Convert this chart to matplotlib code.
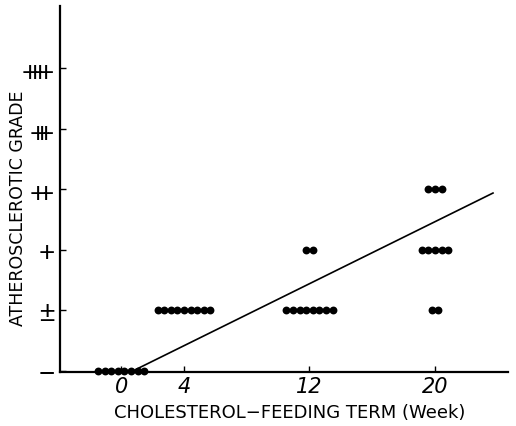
import numpy as np
import matplotlib.pyplot as plt

# feeding term (weeks) and grade for each group of animals, with head counts
group_weeks = [0, 4, 12, 12, 20, 20, 20]
group_grades = [0, 1, 1, 2, 1, 2, 3]
group_counts = [8, 9, 8, 2, 2, 5, 3]

# hand-drawn trend line through the groups
trend_weeks = [0.9, 23.7]
trend_grades = [0.02, 2.94]

week_ticks = [0, 4, 12, 20]
week_labels = ["0", "4", "12", "20"]
grade_ticks = [0, 1, 2, 3, 4, 5]
grade_labels = ["−", "±", "+",
                r"${+}\hspace{-0.27}{+}$",
                r"${+}\hspace{-0.45}{+}\hspace{-0.45}{+}$",
                r"${+}\hspace{-0.4}{+}\hspace{-0.4}{+}\hspace{-0.4}{+}$"]

plt.rcParams["mathtext.fontset"] = "custom"
plt.rcParams["mathtext.rm"] = "Liberation Sans"

fig = plt.figure(figsize=(5.16, 4.27), dpi=100)
ax = fig.add_axes([0.1163, 0.1265, 0.868, 0.857])

# spread each group sideways so every animal gets its own dot
step = 0.42
for w, g, n in zip(group_weeks, group_grades, group_counts):
    xs = w + (np.arange(n) - (n - 1) / 2) * step
    ax.scatter(xs, np.full(n, g), s=32, color="black", zorder=3, clip_on=False,
               linewidths=0)

ax.plot(trend_weeks, trend_grades, color="black", lw=1.2)

ax.set_xlim(-3.9, 24.65)
ax.set_ylim(-0.017, 6.03)

for side in ["top", "right"]:
    ax.spines[side].set_visible(False)
for side in ["left", "bottom"]:
    ax.spines[side].set_linewidth(1.6)

ax.set_xticks(week_ticks)
ax.set_xticklabels(week_labels, fontfamily="Liberation Sans Narrow",
                   fontstyle="italic", fontsize=15)
ax.set_yticks(grade_ticks)
ax.set_yticklabels(grade_labels, fontsize=20, fontfamily="Liberation Sans")
ax.tick_params(axis="both", direction="in", length=4, width=1)
ax.tick_params(axis="x", pad=3)
ax.tick_params(axis="y", pad=4)

ax.set_xlabel("CHOLESTEROL−FEEDING TERM (Week)", fontsize=13)
ax.set_ylabel("ATHEROSCLEROTIC GRADE", fontsize=12.5)
ax.xaxis.set_label_coords(0.513, -0.085)
ax.yaxis.set_label_coords(-0.074, 0.45)

fig.savefig("out.png", dpi=100)
